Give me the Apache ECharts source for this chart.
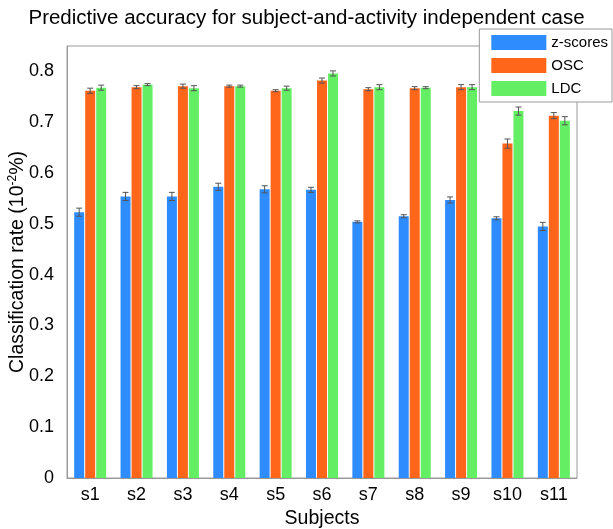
<!DOCTYPE html>
<html>
<head>
<meta charset="utf-8">
<script src="https://cdn.jsdelivr.net/npm/echarts@6/dist/echarts.min.js"></script>
<style>html,body{margin:0;padding:0;background:#fff;}#c{width:613px;height:529px;}</style>
</head>
<body>
<div id="c"></div>
<script>
var categories = ['s1','s2','s3','s4','s5','s6','s7','s8','s9','s10','s11'];
var seriesNames = ['z-scores','OSC','LDC'];
var zscores = [0.523,0.554,0.554,0.573,0.568,0.567,0.504,0.515,0.547,0.511,0.495];
var osc     = [0.762,0.769,0.771,0.771,0.762,0.782,0.765,0.767,0.769,0.658,0.713];
var ldc     = [0.768,0.774,0.767,0.771,0.767,0.796,0.769,0.768,0.769,0.722,0.703];
var zscoresErr = [0.008,0.008,0.008,0.007,0.007,0.005,0.002,0.003,0.006,0.003,0.008];
var oscErr     = [0.005,0.003,0.004,0.002,0.002,0.005,0.003,0.003,0.005,0.009,0.006];
var ldcErr     = [0.005,0.002,0.005,0.002,0.004,0.005,0.005,0.002,0.005,0.008,0.008];
var yTicks = [0,0.1,0.2,0.3,0.4,0.5,0.6,0.7,0.8];

var colors = ['#2e8cff','#ff6619','#64ee64'];
var FONT = 'Liberation Sans, Arial, sans-serif';
var BAR_W = 10, GAP = 1;

var values = [zscores, osc, ldc];
var errs = [zscoresErr, oscErr, ldcErr];

function errSeries(idx) {
  var data = values[idx].map(function (v, i) { return [i, v - errs[idx][i], v + errs[idx][i]]; });
  return {
    type: 'custom',
    name: seriesNames[idx] + ' err',
    z: 5,
    silent: true,
    data: data,
    renderItem: function (params, api) {
      var x = api.value(0);
      var lo = api.coord([x, api.value(1)]);
      var hi = api.coord([x, api.value(2)]);
      var cx = lo[0] + (idx - 1) * (BAR_W + GAP);
      var cap = 3;
      var st = { stroke: '#555', lineWidth: 1 };
      return {
        type: 'group',
        children: [
          { type: 'line', shape: { x1: cx, y1: lo[1], x2: cx, y2: hi[1] }, style: st },
          { type: 'line', shape: { x1: cx - cap, y1: lo[1], x2: cx + cap, y2: lo[1] }, style: st },
          { type: 'line', shape: { x1: cx - cap, y1: hi[1], x2: cx + cap, y2: hi[1] }, style: st }
        ]
      };
    }
  };
}

var chart = echarts.init(document.getElementById('c'), null, { renderer: 'canvas' });
var series = [];
for (var k = 0; k < 3; k++) {
  series.push({
    type: 'bar',
    name: seriesNames[k],
    data: values[k],
    barWidth: BAR_W,
    barGap: '10%',
    itemStyle: { color: colors[k] }
  });
}
for (var k2 = 0; k2 < 3; k2++) series.push(errSeries(k2));

chart.setOption({
  animation: false,
  backgroundColor: '#fff',
  textStyle: { fontFamily: FONT },
  title: {
    text: 'Predictive accuracy for subject-and-activity independent case',
    left: 'center',
    top: 3,
    textStyle: { fontFamily: FONT, fontSize: 20.5, fontWeight: 'normal', color: '#000' }
  },
  legend: {
    data: seriesNames,
    orient: 'vertical',
    right: 1,
    top: 29,
    icon: 'rect',
    itemWidth: 55,
    itemHeight: 15,
    itemGap: 8,
    padding: [6, 4, 6, 12],
    backgroundColor: '#fff',
    borderColor: '#999',
    borderWidth: 1,
    textStyle: { fontFamily: FONT, fontSize: 15, color: '#000' },
    z: 20
  },
  grid: { left: 67, right: 36, top: 46, bottom: 51, show: true, borderColor: '#999', borderWidth: 1, backgroundColor: 'transparent', containLabel: false, outerBoundsMode: 'none' },
  xAxis: {
    type: 'category',
    data: categories,
    name: 'Subjects',
    nameLocation: 'middle',
    nameGap: 31,
    nameMoveOverlap: false,
    nameTextStyle: { fontFamily: FONT, fontSize: 19.5, color: '#000' },
    axisLine: { lineStyle: { color: '#999' } },
    axisTick: { show: false },
    axisLabel: { fontFamily: FONT, fontSize: 18, color: '#000', margin: 8 }
  },
  yAxis: {
    type: 'value',
    min: 0,
    max: 0.85,
    interval: 0.1,
    name: 'Classification rate (10{sup|-2}%)',
    nameLocation: 'middle',
    nameGap: 39,
    nameMoveOverlap: false,
    nameTextStyle: {
      fontFamily: FONT, fontSize: 19.5, color: '#000',
      rich: { sup: { fontFamily: FONT, fontSize: 12, color: '#000', verticalAlign: 'top', padding: [0, 0, 9, 0] } }
    },
    splitLine: { show: false },
    axisLine: { show: true, lineStyle: { color: '#999' } },
    axisTick: { show: false },
    axisLabel: {
      fontFamily: FONT, fontSize: 18, color: '#000', margin: 13,
      formatter: function (v) {
        for (var i = 0; i < yTicks.length; i++) if (Math.abs(yTicks[i] - v) < 1e-6) return String(yTicks[i]);
        return '';
      }
    }
  },
  series: series
});
</script>
</body>
</html>
